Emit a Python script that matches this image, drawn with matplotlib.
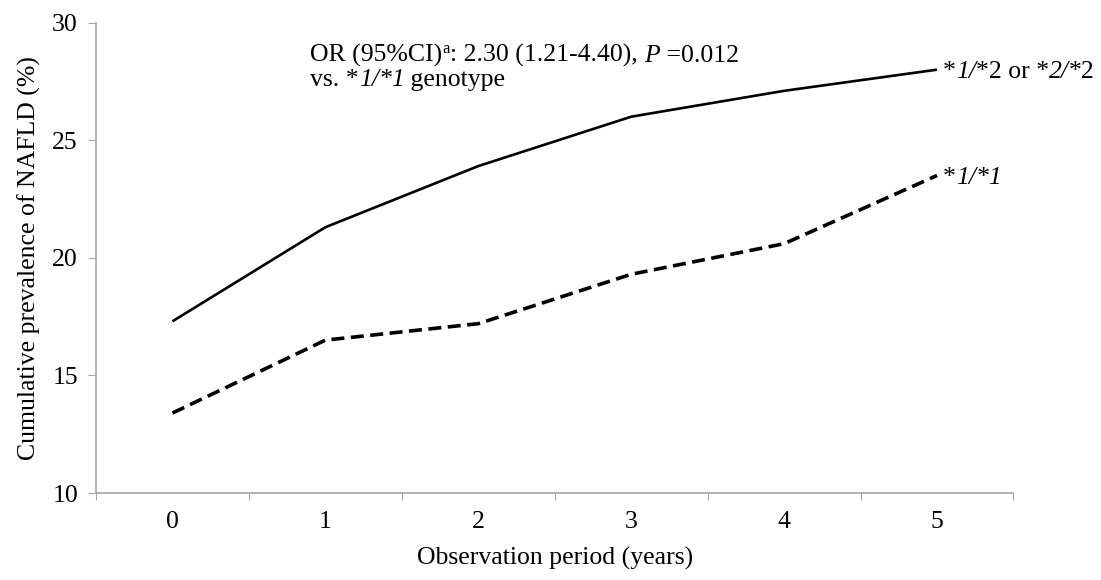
import matplotlib
matplotlib.use("Agg")
import matplotlib.pyplot as plt
from matplotlib.transforms import offset_copy

# data
years = [0, 1, 2, 3, 4, 5]
prev_star2 = [17.3, 21.3, 23.9, 26.0, 27.1, 28.0]   # *1/*2 or *2/*2
prev_star1 = [13.4, 16.5, 17.2, 19.3, 20.6, 23.5]   # *1/*1
yticks = [10, 15, 20, 25, 30]

plt.rcParams['font.family'] = ['Liberation Serif', 'DejaVu Serif']

FS = 18.5
axis_grey = '#a6a6a6'

fig = plt.figure(figsize=(11.01, 5.80), dpi=100)
ax = fig.add_axes([0.0872, 0.150, 0.8333, 0.811])
renderer = fig.canvas.get_renderer()


def rich_text(x, y, parts, size=FS, va='baseline'):
    # draw (string, style, dy_points, size_scale) pieces one after another on a line
    offset = 0.0
    for s, style, dy, scale in parts:
        tr = offset_copy(ax.transData, fig=fig, x=offset * 72 / fig.dpi, y=dy, units='points')
        t = ax.text(x, y, s, transform=tr, fontsize=size * scale, style=style,
                    ha='left', va=va)
        offset += t.get_window_extent(renderer).width


ax.plot(years, prev_star2, color='black', lw=1.9, solid_capstyle='butt')
ax.plot(years, prev_star1, color='black', lw=2.6, dashes=(3.6, 1.8))

ax.set_xlim(-0.5, 5.5)
ax.set_ylim(10, 30)

# category axis: ticks between categories, labels centred
ax.set_xticks([x - 0.5 for x in years] + [5.5])
ax.set_xticklabels([])
ax.set_xticks(years, minor=True)
ax.set_xticklabels([str(y) for y in years], minor=True, fontsize=FS)
ax.tick_params(axis='x', which='minor', length=0, pad=13)
ax.tick_params(axis='x', which='major', length=5, color=axis_grey, direction='out')

ax.set_yticks(yticks)
ax.set_yticklabels([str(t) for t in yticks], fontsize=FS)
ax.tick_params(axis='y', length=6, color=axis_grey, direction='out', pad=7)

for side in ['top', 'right']:
    ax.spines[side].set_visible(False)
for side in ['left', 'bottom']:
    ax.spines[side].set_color(axis_grey)
    ax.spines[side].set_linewidth(1.2)

ax.set_xlabel('Observation period (years)', fontsize=FS, labelpad=10)
ax.set_ylabel('Cumulative prevalence of NAFLD (%)', fontsize=FS, labelpad=8)

rich_text(0.90, 28.34, [('OR (95%CI)', 'normal', 0, 1),
                        ('a', 'normal', 6, 0.65),
                        (': 2.30 (1.21-4.40), ', 'normal', 0, 1),
                        ('P', 'italic', 0, 1),
                        (' =0.012', 'normal', 0, 1)])
rich_text(0.90, 27.31, [('vs. *', 'normal', 0, 1),
                        ('1/*1', 'italic', 0, 1),
                        (' genotype', 'normal', 0, 1)])

rich_text(5.04, prev_star2[-1], [('*', 'normal', 0, 1),
                                 ('1/', 'italic', 0, 1),
                                 ('*2 or *', 'normal', 0, 1),
                                 ('2/', 'italic', 0, 1),
                                 ('*2', 'normal', 0, 1)], va='center_baseline')
rich_text(5.04, prev_star1[-1], [('*', 'normal', 0, 1),
                                 ('1/*1', 'italic', 0, 1)], va='center_baseline')

fig.savefig('out.png', dpi=100)
